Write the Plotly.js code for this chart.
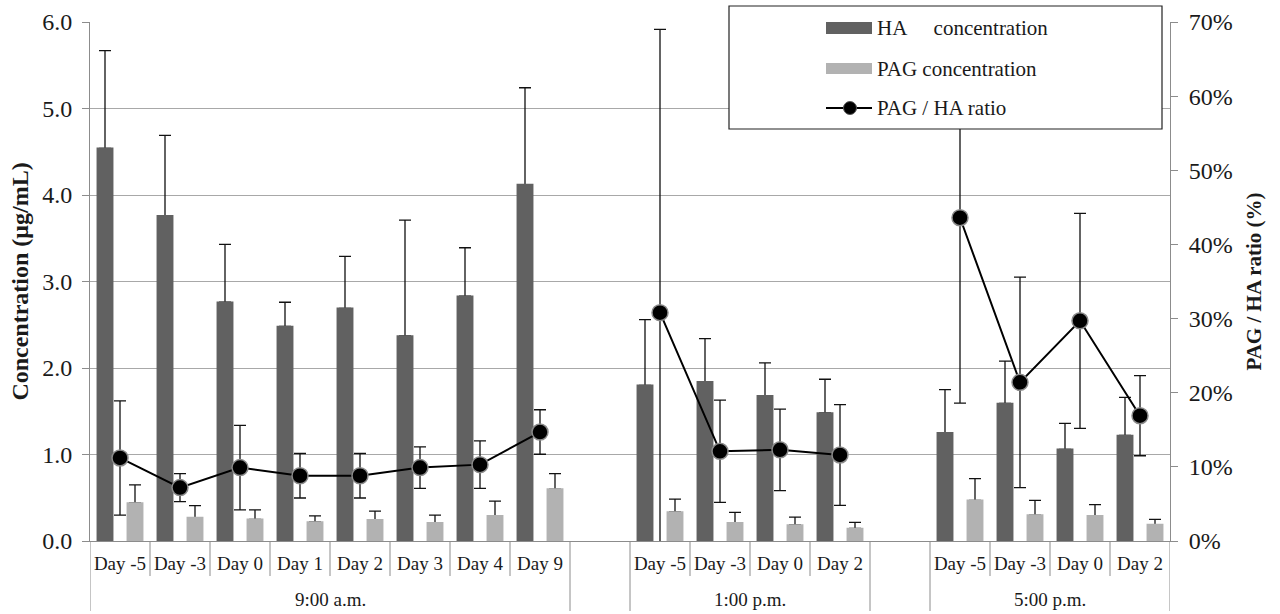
<!DOCTYPE html>
<html>
<head>
<meta charset="utf-8">
<script src="https://cdn.plot.ly/plotly-3.0.1.min.js"></script>
<style>html,body{margin:0;padding:0;background:#fff;}#chart{width:1280px;height:614px;}</style>
</head>
<body>
<div id="chart"></div>
<script>
// ---- data ----
const groupLabels = ['9:00 a.m.', '1:00 p.m.', '5:00 p.m.'];
const days9am = ['Day -5', 'Day -3', 'Day 0', 'Day 1', 'Day 2', 'Day 3', 'Day 4', 'Day 9'];
const days1pm = ['Day -5', 'Day -3', 'Day 0', 'Day 2'];
const days5pm = ['Day -5', 'Day -3', 'Day 0', 'Day 2'];

const haConc9am = [4.54, 3.76, 2.76, 2.48, 2.69, 2.37, 2.83, 4.12];
const haSd9am   = [1.13, 0.93, 0.67, 0.28, 0.60, 1.34, 0.56, 1.12];
const haConc1pm = [1.80, 1.84, 1.68, 1.48];
const haSd1pm   = [0.76, 0.50, 0.38, 0.39];
const haConc5pm = [1.25, 1.59, 1.06, 1.22];
const haSd5pm   = [0.50, 0.49, 0.30, 0.44];

const pagConc9am = [0.44, 0.27, 0.25, 0.22, 0.245, 0.21, 0.29, 0.60];
const pagSd9am   = [0.21, 0.14, 0.11, 0.07, 0.10, 0.09, 0.17, 0.18];
const pagConc1pm = [0.335, 0.21, 0.185, 0.145];
const pagSd1pm   = [0.15, 0.12, 0.09, 0.07];
const pagConc5pm = [0.47, 0.30, 0.29, 0.19];
const pagSd5pm   = [0.25, 0.17, 0.13, 0.06];

const ratio9am   = [0.112, 0.072, 0.099, 0.088, 0.088, 0.099, 0.103, 0.147];
const ratioSd9am = [0.077, 0.019, 0.057, 0.030, 0.030, 0.028, 0.032, 0.030];
const ratio1pm   = [0.308, 0.121, 0.123, 0.116];
const ratioSd1pm = [0.382, 0.069, 0.055, 0.068];
const ratio5pm   = [0.436, 0.214, 0.297, 0.169];
const ratioSd5pm = [0.250, 0.142, 0.145, 0.054];

const seriesNames = ['HA\u00a0\u00a0\u00a0\u00a0\u00a0concentration', 'PAG concentration', 'PAG / HA ratio'];

// ---- assemble slots along the x axis (with an empty slot between sessions) ----
const dayLists = [days9am, days1pm, days5pm];
const haLists = [haConc9am, haConc1pm, haConc5pm];
const haSdLists = [haSd9am, haSd1pm, haSd5pm];
const pagLists = [pagConc9am, pagConc1pm, pagConc5pm];
const pagSdLists = [pagSd9am, pagSd1pm, pagSd5pm];
const ratioLists = [ratio9am, ratio1pm, ratio5pm];
const ratioSdLists = [ratioSd9am, ratioSd1pm, ratioSd5pm];

const slot = [], tickText = [], ha = [], haE = [], pag = [], pagE = [], ratio = [], ratioE = [], zeros = [];
const spans = [];
let pos = 0;
groupLabels.forEach((g, gi) => {
  if (gi > 0) {
    slot.push(pos); tickText.push('');
    [ha, haE, pag, pagE, ratio, ratioE].forEach(a => a.push(null));
    zeros.push(0);
    pos++;
  }
  const start = pos;
  dayLists[gi].forEach((d, i) => {
    slot.push(pos); tickText.push(d);
    ha.push(haLists[gi][i]); haE.push(haSdLists[gi][i]);
    pag.push(pagLists[gi][i]); pagE.push(pagSdLists[gi][i]);
    ratio.push(ratioLists[gi][i]); ratioE.push(ratioSdLists[gi][i]);
    zeros.push(0);
    pos++;
  });
  spans.push([start, pos - 1]);
});
const nSlots = pos;

const FONT = 'Liberation Serif, Times New Roman, serif';
const TXT = '#1a1a1a';
const AX = '#8c8c8c';
const HA_COL = '#616161';
const PAG_COL = '#b2b2b2';

// bar geometry within one slot (fractions of a slot)
const BAR_W = 0.255;
const HA_SHIFT = -0.25, PAG_SHIFT = 0.25;
const haX = slot.map(s => s + HA_SHIFT);
const pagX = slot.map(s => s + PAG_SHIFT);

const errStyle = {color: '#111', thickness: 1.3, width: 6};

const traces = [
  // upward error bars of the bars (drawn beneath the bars so only the upper part shows)
  {type: 'scatter', mode: 'markers', x: haX, y: ha, xaxis: 'x', yaxis: 'y',
   marker: {opacity: 0, size: 2}, hoverinfo: 'skip', showlegend: false,
   error_y: Object.assign({type: 'data', symmetric: false, array: haE, arrayminus: zeros}, errStyle)},
  {type: 'scatter', mode: 'markers', x: pagX, y: pag, xaxis: 'x', yaxis: 'y',
   marker: {opacity: 0, size: 2}, hoverinfo: 'skip', showlegend: false,
   error_y: Object.assign({type: 'data', symmetric: false, array: pagE, arrayminus: zeros}, errStyle)},
  // bars
  {type: 'bar', name: seriesNames[0], x: haX, y: ha, xaxis: 'x', yaxis: 'y2', width: BAR_W,
   marker: {color: HA_COL, line: {width: 1.6, color: HA_COL}}, showlegend: false},
  {type: 'bar', name: seriesNames[1], x: pagX, y: pag, xaxis: 'x', yaxis: 'y2', width: BAR_W,
   marker: {color: PAG_COL, line: {width: 1.6, color: PAG_COL}}, showlegend: false},
  // ratio line
  {type: 'scatter', mode: 'lines+markers', name: seriesNames[2], x: slot, y: ratio, xaxis: 'x', yaxis: 'y3',
   line: {color: '#000', width: 2}, connectgaps: false,
   marker: {color: '#000', size: 16, line: {color: '#8a8a8a', width: 1.5}},
   error_y: Object.assign({type: 'data', symmetric: true, array: ratioE}, errStyle),
   showlegend: false}
];

// pixel helpers for decorations (plot area 90..1170 x 22..541)
const L = 90, R = 1170, T = 22, B = 541;
const px = v => (v - L) / (R - L);
const py = v => (B - v) / (B - T);

// axis dividers (slot boundaries)
const shapes = [];
const groupBounds = new Set();
spans.forEach(s => { groupBounds.add(s[0] - 0.5); groupBounds.add(s[1] + 0.5); });
for (let i = 0; i <= nSlots; i++) {
  const b = i - 0.5;
  const long = groupBounds.has(b);
  shapes.push({type: 'line', xref: 'x', yref: 'paper', x0: b, x1: b, y0: 0, y1: long ? py(611) : py(576),
               line: {color: AX, width: 1}, layer: 'above'});
}

// legend (drawn like the original Excel legend)
shapes.push({type: 'rect', xref: 'paper', yref: 'paper', x0: px(729), x1: px(1162), y0: py(6), y1: py(129),
             fillcolor: '#ffffff', line: {color: '#222', width: 1.2}, layer: 'above'});
shapes.push({type: 'rect', xref: 'paper', yref: 'paper', x0: px(826), x1: px(872), y0: py(22), y1: py(34),
             fillcolor: HA_COL, line: {width: 0}, layer: 'above'});
shapes.push({type: 'rect', xref: 'paper', yref: 'paper', x0: px(826), x1: px(872), y0: py(63), y1: py(74),
             fillcolor: PAG_COL, line: {width: 0}, layer: 'above'});
shapes.push({type: 'line', xref: 'paper', yref: 'paper', x0: px(826), x1: px(872), y0: py(108), y1: py(108),
             line: {color: '#000', width: 2}, layer: 'above'});
shapes.push({type: 'circle', xref: 'paper', yref: 'paper', x0: px(843.5), x1: px(856.5), y0: py(101.5), y1: py(114.5),
             fillcolor: '#000', line: {color: '#555', width: 1}, layer: 'above'});

const annotations = [];
[[28, seriesNames[0]], [69, seriesNames[1]], [108, seriesNames[2]]].forEach(([yy, t]) => {
  annotations.push({xref: 'paper', yref: 'paper', x: px(875), y: py(yy), xanchor: 'left', yanchor: 'middle',
                    text: t, showarrow: false, font: {family: FONT, size: 21, color: TXT}});
});
// session labels
spans.forEach((s, gi) => {
  annotations.push({xref: 'x', yref: 'paper', x: (s[0] + s[1]) / 2, y: py(599), xanchor: 'center', yanchor: 'middle',
                    text: groupLabels[gi], showarrow: false, font: {family: FONT, size: 19, color: TXT}});
});

const layout = {
  width: 1280, height: 614,
  margin: {l: L, r: 1280 - R, t: T, b: 614 - B, pad: 0},
  paper_bgcolor: '#fff', plot_bgcolor: '#fff',
  font: {family: FONT, color: TXT},
  barmode: 'overlay', bargap: 0,
  showlegend: false,
  xaxis: {type: 'linear', range: [-0.5, nSlots - 0.5],
          tickmode: 'array', tickvals: slot, ticktext: tickText, ticks: '',
          tickfont: {family: FONT, size: 19, color: TXT}, ticklabelstandoff: 5,
          showgrid: false, zeroline: false, showline: true, linecolor: AX, linewidth: 1, fixedrange: true},
  yaxis: {range: [0, 6], dtick: 1, tickformat: '.1f', showgrid: true, gridcolor: '#a8a8a8', gridwidth: 1,
          zeroline: false, showline: true, linecolor: AX, ticks: 'outside', ticklen: 7, tickcolor: AX,
          tickfont: {family: FONT, size: 24, color: TXT}, ticklabelstandoff: 5,
          title: {text: 'Concentration (μg/mL)', font: {family: FONT, size: 24, color: TXT, weight: 'bold'}, standoff: 6}},
  yaxis2: {range: [0, 6], overlaying: 'y', visible: false, showgrid: false},
  yaxis3: {range: [0, 0.7], dtick: 0.1, tickformat: '.0%', overlaying: 'y', side: 'right', anchor: 'x',
           showgrid: false, zeroline: false, showline: true, linecolor: AX, ticks: 'outside', ticklen: 7, tickcolor: AX,
           tickfont: {family: FONT, size: 24, color: TXT}, ticklabelstandoff: 6,
           title: {text: 'PAG / HA ratio (%)', font: {family: FONT, size: 21, color: TXT, weight: 'bold'}, standoff: 14}},
  shapes: shapes,
  annotations: annotations
};

Plotly.newPlot('chart', traces, layout, {displayModeBar: false, staticPlot: true});
</script>
</body>
</html>
